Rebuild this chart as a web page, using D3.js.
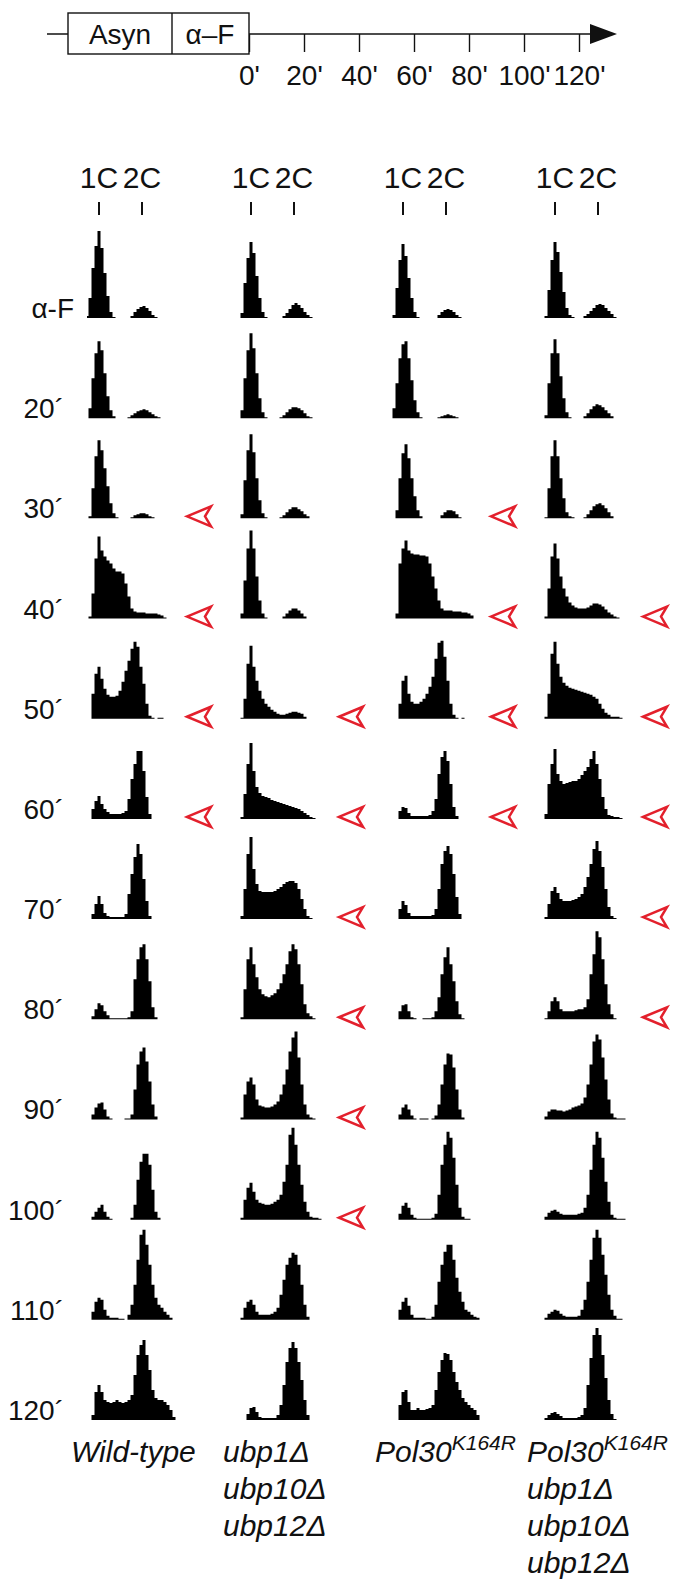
<!DOCTYPE html>
<html lang="en">
<head>
<meta charset="utf-8">
<title>FACS time course</title>
<style>
body { margin: 0; background: #fff; }
svg text { font-family: "Liberation Sans", Helvetica, Arial, sans-serif; fill: #111; }
</style>
</head>
<body>
<script src="https://cdn.jsdelivr.net/npm/d3@7"></script>
<script>

var w = 686;
var h = 1583;

// rows (time after release) and columns (strains)
var times = ["α-F", "20´", "30´", "40´", "50´", "60´", "70´", "80´", "90´", "100´", "110´", "120´"];
var strains = ["wt", "ubp", "pol", "polubp"];
var strainLines = [
  ["Wild-type"],
  ["ubp1Δ", "ubp10Δ", "ubp12Δ"],
  ["Pol30^K164R"],
  ["Pol30^K164R", "ubp1Δ", "ubp10Δ", "ubp12Δ"]
];
var timeTicks = [0, 20, 40, 60, 80, 100, 120];

// histogram counts, 31 bins each (bin 4 = 1C, bin 18 = 2C)
var histWT = [
  [2,20,50,72,87,70,45,22,6,1,0,0,0,0,0,2,6,9,11,12,10,7,3,1,0,0,0,0,0,0,0],
  [0,10,40,65,77,68,45,22,8,2,0,0,0,0,1,3,5,7,8,9,8,6,4,2,1,0,0,0,0,0,0],
  [0,2,30,62,78,68,50,32,15,5,1,0,0,0,0,1,3,4,5,5,4,2,1,0,0,0,0,0,0,0,0],
  [0,2,25,60,82,68,62,58,55,50,47,47,45,35,22,10,7,6,6,6,5,5,5,5,4,3,1,0,0,0,0],
  [0,0,25,45,52,40,30,24,22,22,23,28,37,48,58,70,77,72,52,35,15,3,1,0,1,1,0,0,0,0,0],
  [0,0,10,18,23,15,10,7,5,5,5,5,6,8,20,40,55,68,68,48,22,5,0,0,0,0,0,0,0,0,0],
  [0,0,5,15,23,15,6,3,2,2,2,2,2,5,25,45,62,75,65,40,18,3,0,0,0,0,0,0,0,0,0],
  [0,0,3,10,16,14,8,4,1,1,1,1,1,1,2,8,40,60,72,75,60,38,12,2,0,0,0,0,0,0,0],
  [0,0,5,12,16,17,10,3,1,0,0,0,0,1,1,5,30,55,68,72,58,38,15,3,0,0,0,0,0,0,0],
  [0,0,3,8,12,15,8,3,1,0,0,0,0,0,0,2,15,40,58,66,66,55,30,8,2,0,0,0,0,0,0],
  [0,0,8,18,22,20,10,4,2,2,2,1,1,0,5,15,35,60,85,90,75,55,35,22,15,12,8,5,2,0,0],
  [0,0,5,28,35,28,20,18,17,18,20,18,17,18,20,25,45,65,75,80,65,50,30,22,20,20,18,15,10,3,0]
];
var histUbp = [
  [0,5,35,60,76,65,42,20,6,1,0,0,0,0,0,2,5,9,13,15,13,10,6,3,1,0,0,0,0,0,0],
  [0,8,40,68,85,70,45,20,6,1,0,0,0,0,1,3,6,9,11,11,10,8,5,2,1,0,0,0,0,0,0],
  [0,4,38,68,84,66,40,18,5,1,0,0,0,0,1,3,6,9,11,11,9,7,4,2,0,0,0,0,0,0,0],
  [0,5,38,70,88,70,42,18,5,1,0,0,0,0,0,2,5,8,10,10,8,5,2,0,0,0,0,0,0,0,0],
  [0,1,20,55,73,52,38,28,20,15,12,9,7,5,4,4,5,6,7,7,6,5,2,0,0,0,0,0,0,0,0],
  [0,2,25,55,76,48,32,26,23,22,21,19,18,17,16,15,14,13,12,11,10,8,6,4,2,1,0,0,0,0,0],
  [0,3,30,65,82,50,35,28,27,27,27,27,28,30,32,35,37,38,38,36,30,20,10,3,1,0,0,0,0,0,0],
  [0,2,30,60,72,55,42,30,25,23,22,24,26,30,36,45,55,68,75,70,55,35,15,6,3,1,0,0,0,0,0],
  [0,2,25,38,42,35,20,14,13,12,12,13,15,18,25,35,50,68,82,88,62,35,15,5,2,1,0,0,0,0,0],
  [0,2,20,32,37,28,20,17,16,15,15,16,18,20,25,38,55,85,92,75,55,35,18,8,3,2,2,1,0,0,0],
  [0,2,12,18,20,15,8,5,5,5,5,6,8,12,25,40,55,62,67,65,55,35,15,3,0,0,0,0,0,0,0],
  [0,0,0,6,12,13,8,3,2,2,2,2,2,5,15,35,58,72,78,72,58,40,20,5,0,0,0,0,0,0,0]
];
var histPol = [
  [0,3,30,58,74,62,40,20,6,1,0,0,0,0,0,0,3,6,8,9,8,6,3,1,0,0,0,0,0,0,0],
  [0,10,35,60,74,77,60,38,18,6,1,0,0,0,0,0,1,2,3,4,3,2,1,0,0,0,0,0,0,0,0],
  [0,0,8,40,65,74,60,40,22,8,2,0,0,0,0,0,0,3,6,8,8,7,4,1,0,0,0,0,0,0,0],
  [0,0,5,55,70,78,68,65,64,64,63,63,62,55,42,30,18,10,8,8,8,7,7,7,6,6,5,3,0,0,0],
  [0,0,0,15,38,43,25,17,15,15,17,20,25,32,42,60,76,78,62,38,15,4,1,0,1,0,0,0,0,0,0],
  [0,0,0,8,12,11,6,3,3,3,3,3,3,4,8,20,45,62,68,58,35,12,3,0,0,0,0,0,0,0,0],
  [0,0,0,10,18,14,6,3,3,3,3,3,3,3,4,10,30,55,68,73,65,45,22,5,0,0,0,0,0,0,0],
  [0,0,0,8,14,15,8,2,1,0,0,1,1,1,2,8,22,45,62,72,55,38,18,5,1,0,0,0,0,0,0],
  [0,0,0,5,12,15,10,4,1,0,1,1,1,0,1,4,15,35,55,66,65,52,30,10,2,0,0,0,0,0,0],
  [0,0,0,6,14,17,12,5,2,1,1,1,1,1,2,6,25,55,75,88,82,62,35,12,3,1,1,0,0,0,0],
  [0,0,0,10,18,22,14,5,2,2,2,2,1,1,3,15,38,55,68,75,75,60,42,28,18,10,8,5,3,2,0],
  [0,0,0,15,28,30,18,10,10,12,10,10,11,12,15,30,48,60,67,66,60,48,38,30,22,18,15,12,10,5,0]
];
var histPolUbp = [
  [0,2,28,58,76,66,46,26,10,3,1,0,0,0,2,4,7,10,13,14,13,10,7,4,1,0,0,0,0,0,0],
  [0,3,35,65,79,65,42,20,6,1,0,0,0,0,2,5,9,12,14,13,11,8,5,2,0,0,0,0,0,0,0],
  [0,1,30,62,78,62,40,20,6,2,1,0,0,0,1,4,8,12,14,15,13,10,6,2,0,0,0,0,0,0,0],
  [0,2,30,62,75,60,42,30,22,16,13,11,10,10,10,11,13,15,15,14,12,9,6,4,2,1,0,0,0,0,0],
  [0,2,25,65,77,55,42,36,33,31,30,29,28,27,26,25,24,22,20,15,10,6,4,2,2,2,1,0,0,0,0],
  [0,5,35,55,70,45,38,35,36,37,38,38,40,44,48,52,60,68,55,40,22,10,4,3,2,2,1,0,0,0,0],
  [0,2,15,28,32,26,20,18,18,18,19,20,22,25,32,42,55,70,78,68,52,30,12,3,1,0,0,0,0,0,0],
  [0,1,8,18,22,18,10,8,8,8,8,9,10,10,12,20,45,65,88,82,60,35,15,5,1,0,0,0,0,0,0],
  [0,3,8,10,10,9,9,8,9,10,12,13,14,16,22,35,55,78,85,80,62,40,20,6,2,1,1,1,0,0,0],
  [0,3,7,9,10,8,6,5,5,5,5,5,6,7,12,25,50,75,88,82,62,38,18,5,2,1,1,1,0,0,0],
  [0,2,6,8,10,9,6,4,3,3,3,3,4,10,20,38,60,82,90,82,65,45,25,10,4,1,1,0,0,0,0],
  [0,2,5,7,8,6,4,2,2,2,2,2,3,5,12,35,62,85,92,85,65,42,20,6,1,0,0,0,0,0,0]
];
var hists = [histWT, histUbp, histPol, histPolUbp];

// time points marked with a red arrowhead
var arrowWT = ["30´", "40´", "50´", "60´"];
var arrowUbp = ["50´", "60´", "70´", "80´", "90´", "100´"];
var arrowPol = ["30´", "40´", "50´", "60´"];
var arrowPolUbp = ["40´", "50´", "60´", "70´", "80´"];
var arrows = [arrowWT, arrowUbp, arrowPol, arrowPolUbp];

// scales
var colX = d3.scalePoint().domain(strains).range([99, 555]);    // x of 1C
var rowY = d3.scalePoint().domain(times).range([318, 1420]);    // histogram baselines
var binX = d3.scaleLinear().domain([0, 30]).range([-12, 78]);
var dnaX = d3.scaleLinear().domain([1, 2]).range([0, 43]);
var countY = d3.scaleLinear().domain([0, 100]).range([0, -100]);
var timeX = d3.scaleLinear().domain([0, 120]).range([249, 579]);

var svg = d3.select("body").append("svg").attr("width", w).attr("height", h);

/*
 * timeline
 */
var tl = svg.append("g");
var lineY = 34;
tl.append("line")
  .attr("x1", 47).attr("x2", 598).attr("y1", lineY).attr("y2", lineY)
  .attr("stroke", "#111").attr("stroke-width", 1.6);
tl.append("path")
  .attr("d", "M590," + (lineY - 10) + " L617," + lineY + " L590," + (lineY + 10) + " Z")
  .attr("fill", "#111");

var axisg = tl.append("g").attr("transform", "translate(0," + lineY + ")")
  .call(d3.axisBottom(timeX).tickValues(timeTicks).tickSize(18).tickPadding(13)
    .tickFormat(function(d){ return d + "'"; }));
axisg.select(".domain").remove();
axisg.selectAll("line").attr("stroke", "#111").attr("stroke-width", 1.4);
axisg.selectAll("text").attr("font-size", "28px").attr("fill", "#111")
  .attr("font-family", "Liberation Sans, Helvetica, Arial, sans-serif");

tl.append("rect").attr("x", 68).attr("y", 13).attr("width", 181).attr("height", 41)
  .attr("fill", "#fff").attr("stroke", "#111").attr("stroke-width", 1.4);
tl.append("line").attr("x1", 172).attr("x2", 172).attr("y1", 13).attr("y2", 54)
  .attr("stroke", "#111").attr("stroke-width", 1.4);
tl.append("text").attr("x", 120).attr("y", 44).attr("text-anchor", "middle")
  .attr("font-size", "28px").text("Asyn");
tl.append("text").attr("x", 210).attr("y", 44).attr("text-anchor", "middle")
  .attr("font-size", "28px").text("α–F");

/*
 * columns of histograms
 */
var area = d3.area()
  .x(function(d, i){ return binX(i); })
  .y0(0)
  .y1(function(d){ return countY(d); })
  .curve(d3.curveStep);

var cols = svg.selectAll("g.col").data(strains).enter().append("g")
  .attr("class", "col")
  .attr("transform", function(d){ return "translate(" + colX(d) + ",0)"; });

cols.each(function(s, j){
  var g = d3.select(this);

  // 1C / 2C header
  var hdr = g.selectAll("g.hdr").data([1, 2]).enter().append("g")
    .attr("transform", function(d){ return "translate(" + dnaX(d) + ",0)"; });
  hdr.append("text").attr("y", 188).attr("text-anchor", "middle")
    .attr("font-size", "30px").text(function(d){ return d + "C"; });
  hdr.append("line").attr("y1", 202).attr("y2", 215)
    .attr("stroke", "#111").attr("stroke-width", 2);

  // histograms
  g.selectAll("path.hist").data(hists[j]).enter().append("path")
    .attr("class", "hist")
    .attr("transform", function(d, i){ return "translate(0," + rowY(times[i]) + ")"; })
    .attr("d", area)
    .attr("fill", "#000");

  // red arrowheads
  g.selectAll("path.arrow").data(arrows[j]).enter().append("path")
    .attr("class", "arrow")
    .attr("transform", function(d){ return "translate(88," + (rowY(d) - 2) + ")"; })
    .attr("d", "M0,0 L24,-10 L18,0 L24,10 Z")
    .attr("fill", "#fff")
    .attr("stroke", "#e3202c")
    .attr("stroke-width", 2.5)
    .attr("stroke-linejoin", "miter");

  // strain label
  var lab = g.selectAll("text.strain").data(strainLines[j]).enter().append("text")
    .attr("class", "strain")
    .attr("x", -28)
    .attr("y", function(d, i){ return 1462 + i * 37; })
    .attr("font-size", "30px")
    .attr("font-style", "italic");
  lab.each(function(d){
    var t = d3.select(this);
    var parts = d.split("^");
    t.append("tspan").text(parts[0]);
    if (parts[1]) {
      t.append("tspan").attr("font-size", "21px").attr("dy", -12).text(parts[1]);
    }
  });
});

// row labels
svg.selectAll("text.row").data(times).enter().append("text")
  .attr("class", "row")
  .attr("x", function(d, i){ return i === 0 ? 74 : 64; })
  .attr("y", function(d){ return rowY(d); })
  .attr("text-anchor", "end")
  .attr("font-size", "28px")
  .text(function(d){ return d; });

</script>
</body>
</html>
